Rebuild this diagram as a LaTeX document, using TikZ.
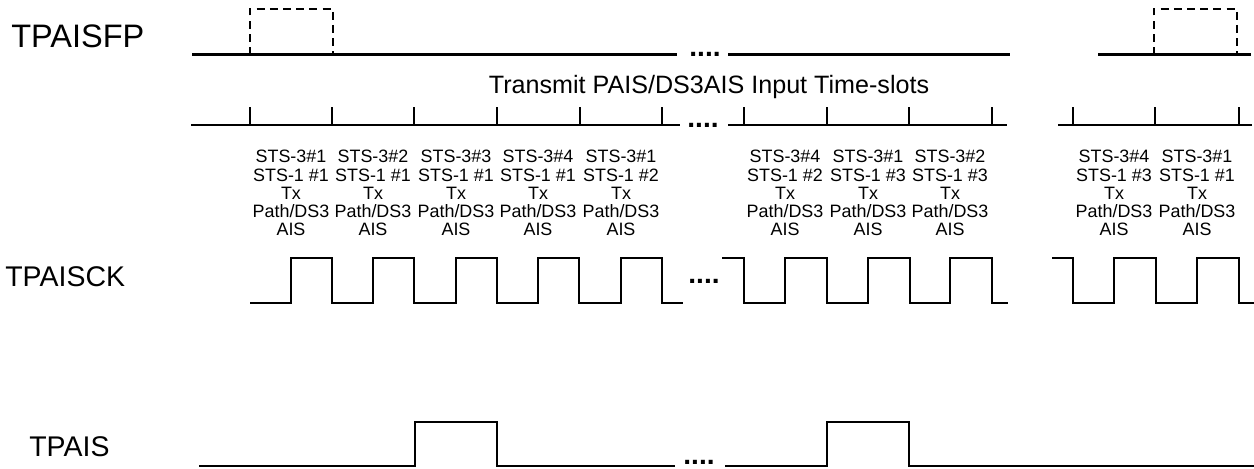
\documentclass[tikz,border=0pt]{standalone}
\usepackage{fontspec}
\setmainfont{Liberation Sans}
\usetikzlibrary{positioning}

\begin{document}
\begin{tikzpicture}[x=0.02cm,y=0.02cm,
  sigline/.style={line width=1.4pt},
  fpline/.style={line width=1.7pt},
  slotline/.style={line width=1.1pt},
  fpbox/.style={line width=0.9pt,dash pattern=on 4.5pt off 3pt},
  dotsgap/.style={inner sep=0pt,anchor=base,font=\fontsize{16}{16}\selectfont\bfseries},
  slotlbl/.style={align=center,inner sep=0pt,font=\fontsize{10.2}{10.3}\selectfont},
  signame/.style={inner sep=0pt,anchor=west}]
  \useasboundingbox (0,0) rectangle (1254,469);
  % signal names
  \node[signame,font=\fontsize{18.5}{20}\selectfont] (fpname) at (11,433) {TPAISFP};
  \node[signame,font=\fontsize{16.2}{18}\selectfont] (ckname) at (5,192) {TPAISCK};
  \node[signame,font=\fontsize{16.2}{18}\selectfont] (aisname) at (29,22) {TPAIS};
  \node[font=\fontsize{14.3}{16}\selectfont,inner sep=0pt] (title) at (709,382) {Transmit PAIS/DS3AIS Input Time-slots};

  % TPAISFP
  \draw[fpline] (192,414) -- (677,414);
  \draw[fpline] (728,414) -- (1010,414);
  \draw[fpline] (1098,414) -- (1251,414);
  \node[dotsgap] (fpdots) at (705,412) {....};
  \draw[fpbox] (250,414) -- (250,460) -- (333,460) -- (333,414);
  \draw[fpbox] (1154,414) -- (1154,460) -- (1237,460) -- (1237,414);

  % time-slot axis
  \draw[slotline] (191,344) -- (680,344);
  \draw[slotline] (728,344) -- (1007,344);
  \draw[slotline] (1058,344) -- (1252,344);
  \node[dotsgap] (slotdots) at (703,341) {....};
  \foreach \x in {250,332,414,497,580,662,744,827,909,992,1073,1155,1239}
    \draw[slotline] (\x,344) -- (\x,362);
  \foreach \x/\a/\b [count=\i] in {291/1/1,373/2/1,456/3/1,538/4/1,621/1/2,785/4/2,868/1/3,950/2/3,1114/4/3,1197/1/1}
    \node[slotlbl] (slot\i) at (\x,276) {STS-3\#\a\\STS-1 \#\b\\Tx\\Path/DS3\\AIS};

  % TPAISCK
  \draw[sigline] (250,166) \foreach \t in {291,373,456,538,621} {-- (\t,166) -- (\t,211) -- ++(41,0) -- ++(0,-45)} -- (683,166);
  \node[dotsgap] (ckdots) at (704,185) {....};
  \draw[sigline] (722,211) -- (744,211) -- (744,166) \foreach \t in {785,868,950} {-- (\t,166) -- (\t,211) -- ++(42,0) -- ++(0,-45)} -- (1008,166);
  \draw[sigline] (1052,211) -- (1073,211) -- (1073,166) \foreach \t in {1114,1197} {-- (\t,166) -- (\t,211) -- ++(42,0) -- ++(0,-45)} -- (1254,166);

  % TPAIS
  \draw[sigline] (199,3) -- (415,3) -- (415,47) -- (497,47) -- (497,3) -- (675,3);
  \node[dotsgap] (aisdots) at (699,4) {....};
  \draw[sigline] (725,3) -- (827,3) -- (827,47) -- (909,47) -- (909,3) -- (1254,3);
\end{tikzpicture}
\end{document}
